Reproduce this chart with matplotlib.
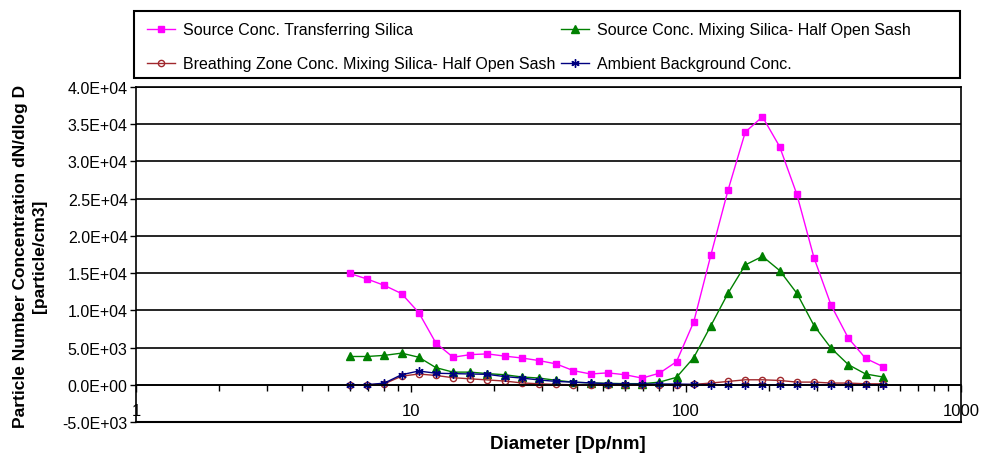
import matplotlib
matplotlib.use('Agg')
import matplotlib.pyplot as plt
from matplotlib.patches import Rectangle
from matplotlib.ticker import FixedLocator, FuncFormatter, NullFormatter
import numpy as np

plt.rcParams['font.family'] = ['Liberation Sans', 'DejaVu Sans']

# Particle diameters (nm)
diameter = [6.00, 6.93, 8.00, 9.24, 10.67, 12.32, 14.22, 16.43, 18.97, 21.90,
            25.29, 29.21, 33.73, 38.95, 44.98, 51.94, 59.98, 69.26, 79.98, 92.36,
            106.7, 123.2, 142.2, 164.3, 189.7, 219.0, 252.9, 292.1, 337.3, 389.5,
            449.8, 519.4]

# dN/dlogD for each series
source_transfer = [14950, 14200, 13350, 12250, 9700, 5600, 3700, 4050, 4150, 3850,
                   3600, 3250, 2800, 1900, 1450, 1600, 1350, 900, 1550, 3100,
                   8450, 17450, 26150, 33950, 36000, 32000, 25600, 17050, 10650, 6250,
                   3550, 2450]
source_mixing = [3800, 3800, 3950, 4250, 3700, 2300, 1700, 1700, 1500, 1350,
                 1050, 900, 600, 350, 250, 200, 150, 150, 350, 1000,
                 3650, 7950, 12300, 16100, 17250, 15350, 12300, 7950, 4900, 2700,
                 1450, 1050]
breathing_zone = [0, 0, 130, 1150, 1450, 1250, 950, 800, 650, 500,
                  250, 130, 50, 0, 0, 0, 0, 0, 0, 0,
                  50, 230, 450, 670, 670, 580, 360, 360, 230, 230,
                  130, 130]
ambient = [0, 0, 230, 1350, 1850, 1550, 1500, 1450, 1400, 1100,
           900, 650, 450, 350, 250, 150, 100, 100, 100, 100,
           50, 0, 0, 0, 0, 0, 0, 0, 0, 0,
           0, 0]

labels = ['Source Conc. Transferring Silica',
          'Source Conc. Mixing Silica- Half Open Sash',
          'Breathing Zone Conc. Mixing Silica- Half Open Sash',
          'Ambient Background Conc.']

yticks = np.arange(-5000, 40001, 5000)
xticks = [1, 10, 100, 1000]

fig = plt.figure(figsize=(9.81, 4.56), dpi=100)
ax = fig.add_axes([136/981, 1 - 423/456, 825/981, 335/456])

lw = 1.0
l1, = ax.plot(diameter, source_transfer, color='#FF00FF', lw=lw, marker='s', ms=5)
l2, = ax.plot(diameter, source_mixing, color='#008000', lw=lw, marker='^', ms=5.5)
l3, = ax.plot(diameter, breathing_zone, color='#A0282D', lw=lw, marker='o', ms=4.5,
              mfc='none', mew=1.0)
l4, = ax.plot(diameter, ambient, color='#000080', lw=lw, marker=(6, 2, 0), ms=6, mew=1.0)

ax.set_xscale('log')
ax.set_xlim(1, 1000)
ax.set_ylim(-5000, 40000)

# gridlines
ax.set_yticks(yticks)
ax.yaxis.set_major_formatter(FuncFormatter(lambda v, p: '%.1E' % v))
ax.yaxis.grid(True, color='black', lw=1.2)
ax.set_axisbelow(True)

# x axis crosses at zero, like the original
ax.spines['bottom'].set_position(('data', 0))
ax.spines['bottom'].set_linewidth(1.2)
for s in ['left', 'right', 'top']:
    ax.spines[s].set_linewidth(1.2)
ax.axhline(-5000, color='black', lw=1.5, clip_on=False)

ax.xaxis.set_major_locator(FixedLocator(xticks))
ax.xaxis.set_major_formatter(FuncFormatter(lambda v, p: '%d' % round(v)))
ax.xaxis.set_minor_formatter(NullFormatter())
ax.tick_params(axis='x', which='major', direction='out', length=5, width=1, pad=8, labelsize=12)
ax.tick_params(axis='x', which='minor', direction='out', length=4, width=1)
ax.tick_params(axis='y', direction='out', length=4, width=1, pad=2, labelsize=11.5)

fig.text(568/981, 1 - 445/456, 'Diameter [Dp/nm]', ha='center', va='center',
         fontsize=13.5, fontweight='bold')
fig.text(30/981, 1 - 256/456, 'Particle Number Concentration dN/dlog D\n[particle/cm3]',
         rotation=90, ha='center', va='center', multialignment='center',
         fontsize=12.5, fontweight='bold', linespacing=1.35)

# legend box
fig.patches.append(Rectangle((134/981, 1 - 79/456), 826/981, 67/456,
                             transform=fig.transFigure, fill=False,
                             edgecolor='black', lw=1.5))
fig.legend([l1, l3, l2, l4], [labels[0], labels[2], labels[1], labels[3]],
           loc='upper left', bbox_to_anchor=(147/981, 1 - 23.5/456),
           bbox_transform=fig.transFigure, ncol=2, frameon=False,
           borderpad=0, borderaxespad=0, handlelength=1.75, handletextpad=0.48,
           columnspacing=0.4, labelspacing=1.17, fontsize=11.5)

fig.savefig('out.png', dpi=100)
